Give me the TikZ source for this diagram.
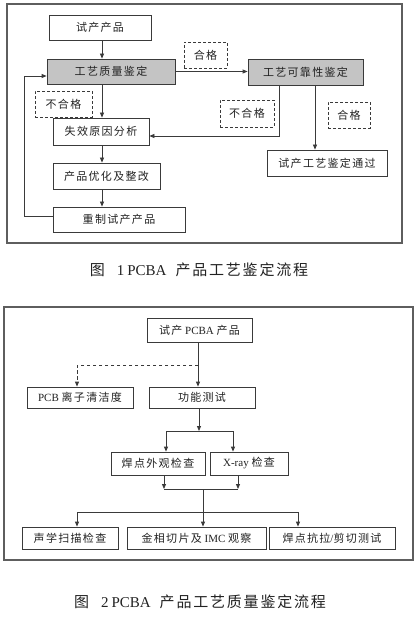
\documentclass[tikz,border=0pt]{standalone}
\usepackage{fontspec}
\setmainfont{Liberation Serif}
\newfontfamily\cjk[LetterSpace=12]{Noto Sans CJK SC}
\usetikzlibrary{arrows.meta}
\definecolor{linec}{HTML}{3A3A3A}
\definecolor{framec}{HTML}{5E5E5E}
\definecolor{fillg}{HTML}{C4C4C4}
\definecolor{txt}{HTML}{222222}
\tikzset{
  box/.style={draw=linec, line width=0.8pt, inner sep=0pt, text=txt, font=\fontsize{11}{13}\selectfont},
  grayb/.style={box, fill=fillg},
  dbox/.style={box, dash pattern=on 3pt off 2pt},
  conn/.style={draw=linec, line width=0.8pt},
  arr/.style={conn, -{Triangle[length=5pt,width=4pt]}},
  frame/.style={draw=framec, line width=1.2pt},
  captext/.style={inner sep=0pt, text=txt, font=\fontsize{15}{17}\selectfont}
}
\begin{document}
\begin{tikzpicture}[x=1pt,y=-1pt]
\useasboundingbox (0,0) rectangle (418,620);
\fill[white] (0,0) rectangle (418,620);
% ---------- Figure 1 ----------
\draw[frame] (7,4) rectangle (402,243);
\node[box, minimum width=102, minimum height=25] (n1) at (100,27.5) {\cjk 试产产品};
\node[grayb, minimum width=128, minimum height=25] (n2) at (111,71.5) {\cjk 工艺质量鉴定};
\node[grayb, minimum width=115, minimum height=26] (n3) at (305.5,72) {\cjk 工艺可靠性鉴定};
\node[dbox, minimum width=43, minimum height=26] (d1) at (205.5,55) {\cjk 合格};
\node[dbox, minimum width=57, minimum height=26] (d2) at (63.5,104) {\cjk 不合格};
\node[box, minimum width=96, minimum height=27] (n4) at (101,131.5) {\cjk 失效原因分析};
\node[dbox, minimum width=54, minimum height=27] (d3) at (247,113.5) {\cjk 不合格};
\node[dbox, minimum width=42, minimum height=26] (d4) at (349,115) {\cjk 合格};
\node[box, minimum width=120, minimum height=26] (n5) at (327,163) {\cjk 试产工艺鉴定通过};
\node[box, minimum width=107, minimum height=26] (n6) at (106.5,176) {\cjk 产品优化及整改};
\node[box, minimum width=132, minimum height=25] (n7) at (119,219.5) {\cjk 重制试产产品};

\draw[arr] ([xshift=2pt]n1.south) -- ([xshift=2pt]n1.south |- n2.north);
\draw[arr] ([xshift=1pt]n4.north |- n2.south) -- ([xshift=1pt]n4.north);
\draw[arr] (n2.east) -- (n2.east -| n3.west);
\draw[arr] ([xshift=-26.5pt]n3.south) |- ([yshift=-4.5pt]n4.east);
\draw[arr] ([xshift=9.5pt]n3.south) -- ([xshift=9.5pt]n3.south |- n5.north);
\draw[arr] ([xshift=1pt]n4.south) -- ([xshift=1pt]n4.south |- n6.north);
\draw[arr] ([xshift=1pt]n4.south |- n6.south) -- ([xshift=1pt]n4.south |- n7.north);
\draw[arr] ([yshift=3.5pt]n7.west) -- ++(-28,0) |- ([yshift=-4.5pt]n2.west);

\node[captext] (c1) at (199,270) {{\cjk 图}\hspace{12pt}1\hspace{3pt}PCBA\hspace{9pt}{\cjk 产品工艺鉴定流程}};

% ---------- Figure 2 ----------
\draw[frame] (4,307) rectangle (413,560);
\node[box, minimum width=105, minimum height=24] (m1) at (199.5,330) {{\cjk 试产} PCBA {\cjk 产品}};
\node[box, minimum width=106, minimum height=21] (m2) at (80,397.5) {PCB {\cjk 离子清洁度}};
\node[box, minimum width=106, minimum height=21] (m3) at (202,397.5) {\cjk 功能测试};
\node[box, minimum width=94, minimum height=23] (m4) at (158,463.5) {\cjk 焊点外观检查};
\node[box, minimum width=78, minimum height=23] (m5) at (249,463.5) {X-ray {\cjk 检查}};
\node[box, minimum width=96, minimum height=22] (m6) at (70,538) {\cjk 声学扫描检查};
\node[box, minimum width=139, minimum height=22] (m7) at (196.5,538) {{\cjk 金相切片及} IMC {\cjk 观察}};
\node[box, minimum width=126, minimum height=22] (m8) at (332,538) {{\cjk 焊点抗拉}/{\cjk 剪切测试}};

\coordinate (ds) at (198,365);
\draw[arr] ([xshift=-1.5pt]m1.south) -- ([xshift=-1.5pt]m1.south |- m3.north);
\draw[arr, dash pattern=on 3.5pt off 2.5pt] (ds) -| ([xshift=-3pt]m2.north);

\coordinate (s1) at (199,431);
\coordinate (s1L) at (166,431);
\coordinate (s1R) at (233,431);
\draw[arr] ([xshift=-3pt]m3.south) -- (s1);
\draw[conn] (s1L) -- (s1R);
\draw[arr] (s1L) -- (s1L |- m4.north);
\draw[arr] (s1R) -- (s1R |- m5.north);

\coordinate (j1L) at (164,489);
\coordinate (j1R) at (238,489);
\coordinate (j1) at (203,489);
\draw[arr] (j1L |- m4.south) -- (j1L);
\draw[arr] (j1R |- m5.south) -- (j1R);
\draw[conn] (j1L) -- (j1R);

\coordinate (j2) at (203,512);
\coordinate (j2L) at (77,512);
\coordinate (j2R) at (298,512);
\draw[conn] (j1) -- (j2);
\draw[conn] (j2L) -- (j2R);
\draw[arr] (j2L) -- (j2L |- m6.north);
\draw[arr] (j2) -- (j2 |- m7.north);
\draw[arr] (j2R) -- (j2R |- m8.north);

\node[captext] (c2) at (200,602) {{\cjk 图}\hspace{12pt}2\hspace{3pt}PCBA\hspace{9pt}{\cjk 产品工艺质量鉴定流程}};
\end{tikzpicture}
\end{document}
